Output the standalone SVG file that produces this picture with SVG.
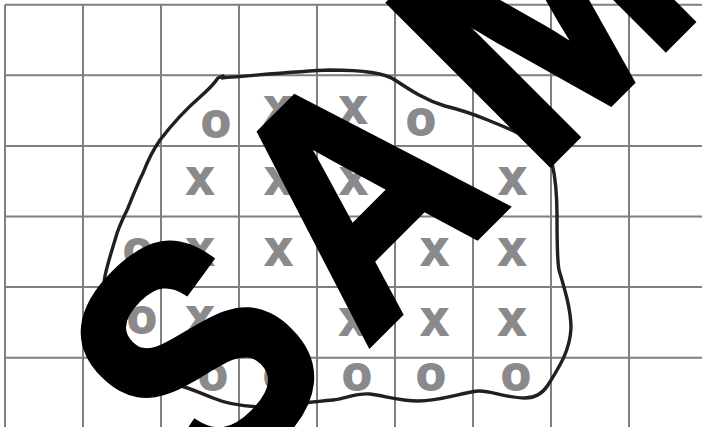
<svg xmlns="http://www.w3.org/2000/svg" width="702" height="427" viewBox="0 0 702 427">
<style>
.g{stroke:#7f7f7f;stroke-width:2;fill:none}
.m{font-family:"Liberation Sans",Arial,sans-serif;font-weight:bold;font-size:48px;fill:#8a8a8c;stroke:#8a8a8c;stroke-width:1.8;text-anchor:middle}
.w{font-family:"Liberation Sans",Arial,sans-serif;font-weight:bold;font-size:328px;fill:#000;stroke:#000;stroke-width:8}
</style>
<rect width="702" height="427" fill="#fff"/>
<g id="grid" class="g">
<path d="M5 4.7V427M83 4.7V427M161 4.7V427M239 4.7V427M317 4.7V427M395 4.7V427M473 4.7V427M551 4.7V427M629 4.7V427"/>
<path d="M5 4.7H702M5 75.3H702M5 145.9H702M5 216.5H702M5 287.1H702M5 357.7H702"/>
</g>
<g id="marks" class="m">
<text x="216" y="136.5">o</text>
<text x="278" y="122.5">x</text>
<text x="353" y="122.5">x</text>
<text x="421" y="135">o</text>
<text x="200" y="193.5">x</text>
<text x="278.5" y="193.5">x</text>
<text x="353.5" y="193.5">x</text>
<text x="512.5" y="193.5">x</text>
<text x="138" y="264.5">o</text>
<text x="200" y="264.5">x</text>
<text x="278.5" y="264.5">x</text>
<text x="434.5" y="264.5">x</text>
<text x="512" y="264.5">x</text>
<text x="142" y="332.5">o</text>
<text x="200" y="332.5">x</text>
<text x="353" y="335">x</text>
<text x="434.5" y="335">x</text>
<text x="512" y="335">x</text>
<text x="213" y="390">o</text>
<text x="278" y="390">o</text>
<text x="357" y="390">o</text>
<text x="431" y="390">o</text>
<text x="516" y="390">o</text>
</g>
<g id="blob">
<path fill="none" stroke="#231f20" stroke-width="3.4" stroke-linejoin="round" d="M221 78 C260 75 300 71 330 70 C360 70 385 73 395 80 C410 90 425 100 445 106 C470 112 480 117 495 123 C520 133 545 145 552 163 C556 180 557 200 557 215 C557 240 557 260 559 270 C565 290 571 310 571 328 C570 350 560 366 548 385 C543 393 535 398 525 398 C505 398 490 390 478 391 C460 393 440 401 418 401 C400 401 385 396 370 394 C355 393 345 399 333 400 C310 402 290 405 267 407 C245 407 225 403 213 398 C200 393 190 388 177 385 C150 378 120 360 108 340 C100 320 101 295 105 276 C108 262 112 250 115 240 C118 228 122 220 128 208 C132 198 137 185 143 173 C148 160 153 150 160 140 C170 127 185 110 200 97 C208 90 214 84 218 78 L223 76 L221 79"/>
</g>
<g id="watermark" transform="rotate(-45) scale(0.87,1)">
<text class="w" x="-240 14 293 564 782 980" y="504">SAMPLE</text>
</g>
</svg>
